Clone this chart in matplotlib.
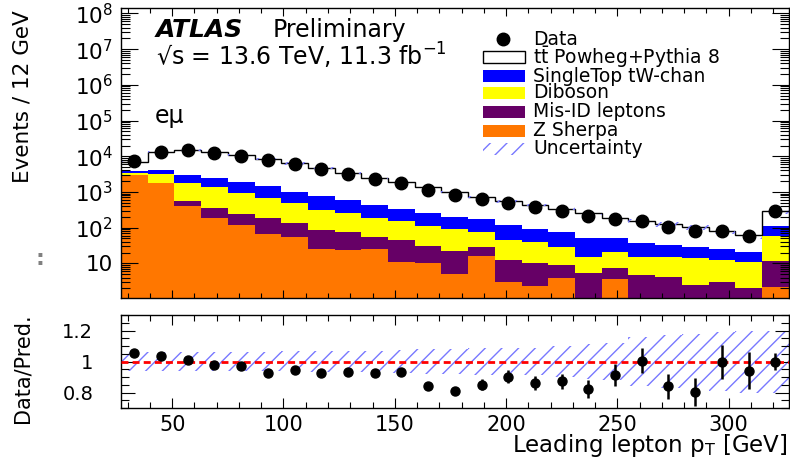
import numpy as np
import matplotlib
matplotlib.use('Agg')
import matplotlib.pyplot as plt
from matplotlib.patches import Rectangle
from matplotlib.lines import Line2D
from matplotlib.ticker import LogLocator, MultipleLocator, FixedLocator, FuncFormatter, NullFormatter

plt.rcParams['font.family'] = ['DejaVu Sans']
plt.rcParams['mathtext.fontset'] = 'dejavusans'
plt.rcParams['hatch.linewidth'] = 1.0

# 12 GeV bins from 27 to 327, last bin holds the overflow
edges = np.arange(27, 328, 12)
centers = edges[:-1] + 6

data = [7340, 13370, 14900, 12500, 10300, 7840, 5930, 4300, 3170, 2250, 1740, 1130, 818,
        621, 498, 371, 298, 211, 171, 156, 106, 82, 82, 58, 298]
z_sherpa = [2950, 1740, 403, 182, 118, 66, 56, 26, 23.6, 24.5, 11, 10.4, 5.0,
            16, 3.1, 2.3, 3.8, 0, 3.6, 0, 0, 0, 0, 0, 2.2]
misid = [40, 40, 164, 165, 122, 116, 76, 60, 53, 31.5, 34, 20, 17,
         13, 9.3, 7.7, 5.2, 5.5, 3.6, 4.7, 4.2, 2.5, 3.05, 2.1, 9.6]
diboson = [480, 1330, 1243, 1003, 674, 480, 347, 225, 174, 126, 108, 80.5, 70,
           48, 32.6, 30, 20, 9.8, 13.8, 10.6, 11.1, 11.3, 9.35, 9.0, 46.2]
singletop = [500, 1000, 1160, 1150, 1016, 798, 551, 456, 342, 248, 178, 151, 110,
             94, 73, 51, 48, 37.7, 31, 22.5, 17.3, 15.4, 12.3, 10, 53]
ttbar = [2980, 8800, 11810, 10280, 8710, 6980, 5250, 3890, 2800, 2010, 1530, 1085, 808,
         560, 433, 340, 265, 204, 135, 117, 94, 73, 58, 41, 187]

ratio = [1.052, 1.036, 1.008, 0.978, 0.968, 0.929, 0.944, 0.923, 0.933, 0.923, 0.933, 0.839, 0.81,
         0.85, 0.903, 0.86, 0.871, 0.821, 0.912, 1.004, 0.839, 0.806, 0.994, 0.94, 1.0]
ratio_err = [0.012, 0.009, 0.008, 0.009, 0.01, 0.011, 0.012, 0.014, 0.017, 0.02, 0.022, 0.025, 0.028,
             0.034, 0.04, 0.045, 0.05, 0.057, 0.07, 0.08, 0.08, 0.09, 0.11, 0.12, 0.058]
rel_unc = [0.06, 0.06, 0.06, 0.06, 0.06, 0.06, 0.065, 0.065, 0.07, 0.07, 0.075, 0.08, 0.08,
           0.085, 0.09, 0.09, 0.10, 0.11, 0.12, 0.16, 0.17, 0.18, 0.19, 0.2, 0.2]

c_top = 'white'
c_st = '#0000ff'
c_db = '#ffff00'
c_mis = '#660066'
c_z = '#ff7700'
c_unc = '#7878ff'

fig = plt.figure(figsize=(7.9, 4.68), dpi=100)
ax = fig.add_axes([0.1532, 0.3632, 0.8451, 0.6197])
axr = fig.add_axes([0.1532, 0.1282, 0.8451, 0.1987], sharex=ax)

ax.set_yscale('log')

# stack, drawn from the total down so each layer covers the one above it
layers = [z_sherpa, misid, diboson, singletop, ttbar]
colors = [c_z, c_mis, c_db, c_st, c_top]
cum = np.cumsum(np.array(layers, dtype=float), axis=0)
total = cum[-1]
for top, col in reversed(list(zip(cum, colors))):
    ax.stairs(np.clip(top, 1e-3, None), edges, baseline=1e-3, fill=True, color=col,
              lw=0, antialiased=False)
ax.stairs(total, edges, baseline=None, color='black', lw=1.0)

u = np.array(rel_unc)
ax.stairs(total * (1 + u), edges, baseline=total * (1 - u), fill=True,
          facecolor='none', edgecolor=c_unc, hatch='//', lw=0)

ax.plot(centers, data, 'o', color='black', ms=9, zorder=5)

ax.set_xlim(27, 327)
ax.set_ylim(1.07, 1.42e8)

def log_fmt(v, pos):
    n = int(round(np.log10(v)))
    return '10' if n == 1 else r'$10^{%d}$' % n

ax.yaxis.set_major_locator(LogLocator(base=10, numticks=20))
ax.yaxis.set_minor_locator(LogLocator(base=10, subs=np.arange(2, 10), numticks=20))
ax.yaxis.set_major_formatter(FuncFormatter(log_fmt))
ax.yaxis.set_minor_formatter(NullFormatter())
ax.xaxis.set_major_locator(MultipleLocator(50))
ax.xaxis.set_minor_locator(MultipleLocator(10))
ax.tick_params(axis='both', which='both', direction='in', top=True, right=True, width=0.8)
ax.tick_params(axis='y', which='major', length=12, labelsize=15.5, pad=6)
ax.tick_params(axis='y', which='minor', length=6.5)
ax.tick_params(axis='x', which='major', length=6)
ax.tick_params(axis='x', which='minor', length=3.5)
ax.tick_params(axis='x', labelbottom=False)

# ratio panel
axr.stairs(1 + u, edges, baseline=1 - u, fill=True, facecolor='none',
           edgecolor=c_unc, hatch='//', lw=0)
axr.axhline(1, color='red', lw=2, ls=(0, (2.5, 1.5)), zorder=3)
axr.errorbar(centers, ratio, yerr=ratio_err, fmt='o', color='black', ms=6.5,
             elinewidth=1.8, capsize=0, zorder=5)
axr.set_ylim(0.7, 1.3)
axr.yaxis.set_major_locator(FixedLocator([0.8, 1.0, 1.2]))
axr.yaxis.set_major_formatter(FuncFormatter(lambda v, p: '%g' % v))
axr.yaxis.set_minor_locator(MultipleLocator(0.05))
axr.xaxis.set_major_locator(MultipleLocator(50))
axr.xaxis.set_minor_locator(MultipleLocator(10))
axr.tick_params(axis='both', which='both', direction='in', top=True, right=True, width=0.8)
axr.tick_params(axis='y', which='major', length=10, labelsize=14, pad=20)
axr.tick_params(axis='y', which='minor', length=5.5)
axr.tick_params(axis='x', which='major', length=7, labelsize=15, pad=5)
axr.tick_params(axis='x', which='minor', length=4)

for a in (ax, axr):
    for s in a.spines.values():
        s.set_linewidth(1.0)

axr.set_xlabel(r'Leading lepton p$_{\mathrm{T}}$ [GeV]', fontsize=16.5, loc='right')
axr.xaxis.set_label_coords(0.9976, -0.40)
axr.xaxis.label.set_va('center')

fig.text(23 / 790, 1 - 97 / 468, 'Events / 12 GeV', rotation=90, fontsize=15.5,
         ha='center', va='center')
fig.text(23 / 790, 1 - 368 / 468, 'Data/Pred.', rotation=90, fontsize=15,
         ha='center', va='center')
fig.text(40 / 790, 1 - 259 / 468, ':', color='#808080', fontsize=16, weight='bold',
         ha='center', va='center')

# labels
fig.text(156 / 790, 1 - 30 / 468, 'ATLAS', fontsize=18, weight='bold', style='italic', va='center')
fig.text(273 / 790, 1 - 30 / 468, 'Preliminary', fontsize=17, va='center')
fig.text(156 / 790, 1 - 56 / 468, '√s = 13.6 TeV, 11.3 fb$^{-1}$', fontsize=17, va='center')
fig.text(155 / 790, 1 - 116 / 468, 'eμ', fontsize=17, va='center')

# legend
leg_labels = ['Data', r't$\bar{\mathrm{t}}$ Powheg+Pythia 8', 'SingleTop tW-chan', 'Diboson',
              'Mis-ID leptons', 'Z Sherpa', 'Uncertainty']
rows = [39.3, 57.3, 76, 92.7, 111.7, 130.7, 149]
bx, bw, bh = 483 / 790, 42 / 790, 12 / 468
tx = 533 / 790
for i, (lab, ry) in enumerate(zip(leg_labels, rows)):
    yc = 1 - ry / 468
    if i == 0:
        fig.add_artist(Line2D([503 / 790], [yc], marker='o', color='black', ms=9, ls='none'))
    elif i == 1:
        fig.add_artist(Rectangle((bx, yc - bh / 2), bw, bh, facecolor='white',
                                 edgecolor='black', lw=1.0, transform=fig.transFigure))
    elif i == 6:
        fig.add_artist(Rectangle((bx, yc - bh / 2), bw, bh, facecolor='none',
                                 edgecolor=c_unc, hatch='//', lw=0, transform=fig.transFigure))
    else:
        col = [c_st, c_db, c_mis, c_z][i - 2]
        fig.add_artist(Rectangle((bx, yc - bh / 2), bw, bh, facecolor=col,
                                 edgecolor='none', transform=fig.transFigure))
    fig.text(tx, yc, lab, fontsize=13.5, va='center')

fig.savefig('out.png', dpi=100)
